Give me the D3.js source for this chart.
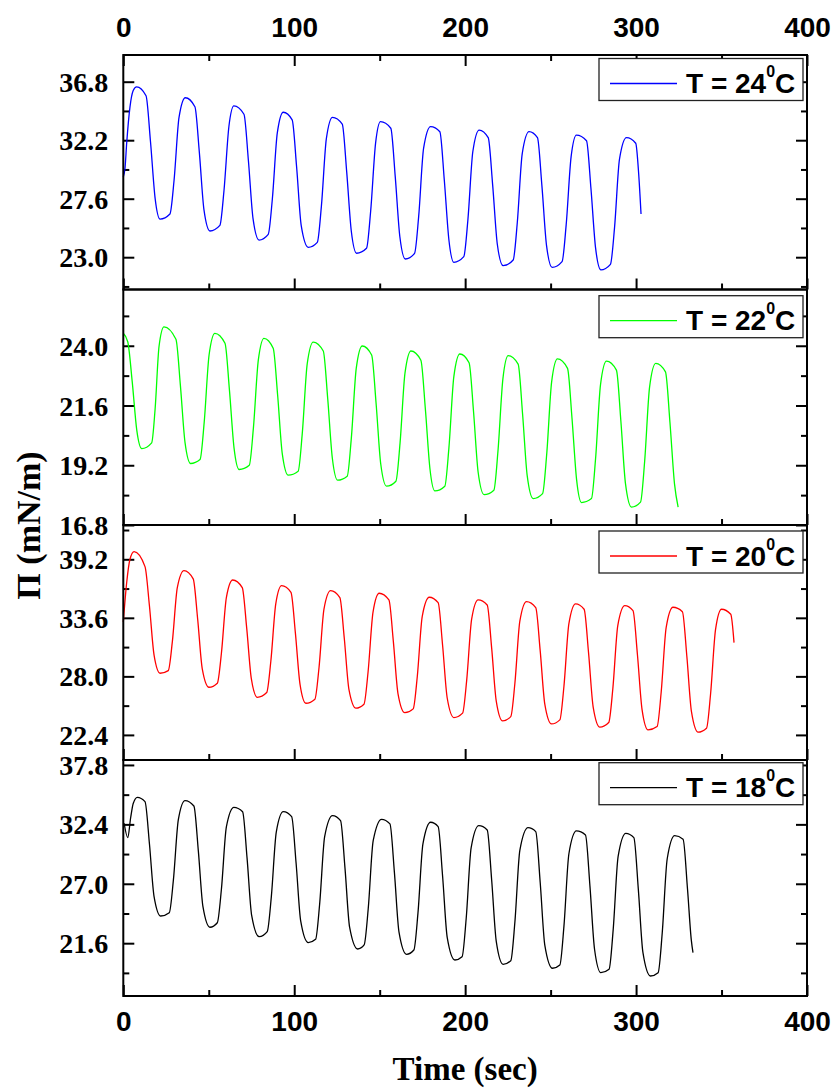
<!DOCTYPE html>
<html>
<head>
<meta charset="utf-8">
<script src="https://cdn.jsdelivr.net/npm/d3@7"></script>
<style>
  body { margin: 0; background: #fff; }
  svg { display: block; }
</style>
</head>
<body>
<svg id="chart" width="836" height="1090"></svg>
<script>
// Surface pressure oscillations at four subphase temperatures
const temperatures = ["24", "22", "20", "18"];
const colors = ["#0000ff", "#00ff00", "#ff0000", "#000000"];
const timeTicks = [0, 100, 200, 300, 400];
const timeMinorTicks = [50, 150, 250, 350];
const timeDomain = [0, 400];

const yDomains = [[20.46, 38.9], [16.8, 26.26], [20.0, 42.48], [16.8, 38.25]];
const yMajorTicks = [
  [23.0, 27.6, 32.2, 36.8],
  [16.8, 19.2, 21.6, 24.0],
  [22.4, 28.0, 33.6, 39.2],
  [21.6, 27.0, 32.4, 37.8]
];
const yMinorTicks = [
  [20.7, 25.3, 29.9, 34.5],
  [18.0, 20.4, 22.8, 25.2],
  [25.2, 30.8, 36.4, 42.0],
  [18.9, 24.3, 29.7, 35.1]
];

// [time (s), surface pressure (mN/m)]
const pi24 = [
  [0,29.3],[1,30.0],[2.0,32.0],[3.9,34.8],[5.8,36.1],[7.8,36.4],[13.3,35.7],[15.9,32.1],[18.6,27.65],[21.5,26.0],
  [27.3,26.4],[29.7,29.05],[32.6,33.99],[36.3,35.54],[41.9,34.83],[44.5,31.22],[47.2,26.72],[50.7,25.06],
  [56.5,25.5],[58.9,28.23],[61.8,33.3],[64.7,34.9],[70.6,34.24],[73.2,30.58],[75.9,26.03],[79.4,24.35],
  [84.8,24.8],[87.2,27.58],[90.1,32.77],[93.6,34.4],[98.8,33.8],[101.4,30.09],[104.1,25.48],[108.2,23.78],
  [113.5,24.17],[115.9,27.02],[118.8,32.33],[122.4,34.0],[128.1,33.47],[130.7,29.71],[133.4,25.04],[136.5,23.31],
  [142.3,23.7],[144.7,26.59],[147.6,31.97],[150.5,33.66],[156.5,33.14],[159.1,29.34],[161.8,24.61],[165.0,22.86],
  [170.4,23.3],[172.8,26.19],[175.7,31.57],[179.8,33.26],[185.2,32.87],[187.8,29.07],[190.5,24.35],[193.4,22.6],
  [199.2,23.04],[201.6,25.93],[204.5,31.31],[208.2,33.0],[213.5,32.4],[216.1,28.67],[218.8,24.04],[222.2,22.33],
  [228.1,22.78],[230.5,25.71],[233.4,31.15],[237.4,32.87],[242.3,32.4],[244.9,28.63],[247.6,23.93],[250.9,22.2],
  [256.7,22.65],[259.1,25.54],[262.0,30.91],[265.1,32.6],[271.0,32.16],[273.6,28.4],[276.3,23.73],[279.4,22.0],
  [285.0,22.44],[287.4,25.33],[290.3,30.71],[294.4,32.4],[299.8,31.96],[301.5,29.6],[302.9,26.4]
];
const pi22 = [
  [0,24.5],[2.6,24.16],[5.2,22.57],[7.9,20.6],[10.8,19.87],
  [16.6,20.1],[18.6,21.45],[20.9,23.97],[23.8,24.76],[30.8,24.26],[33.4,22.41],[36.1,20.12],[39.4,19.27],
  [44.9,19.43],[47.3,20.9],[50.2,23.64],[53.6,24.5],[59.5,24.1],[62.1,22.22],[64.8,19.89],[67.8,19.03],
  [73.7,19.2],[76.1,20.68],[79.0,23.43],[82.3,24.3],[87.7,23.9],[90.3,22.01],[93.0,19.67],[96.5,18.8],
  [102.3,18.96],[104.7,20.47],[107.6,23.27],[111.1,24.15],[117.0,23.79],[119.6,21.87],[122.3,19.48],[125.4,18.6],
  [131.0,18.76],[133.4,20.28],[136.3,23.1],[139.8,23.99],[145.3,23.63],[147.9,21.68],[150.6,19.26],[154.0,18.36],
  [159.5,18.56],[161.9,20.08],[164.8,22.9],[168.3,23.79],[174.1,23.42],[176.7,21.48],[179.4,19.06],[182.3,18.17],
  [188.1,18.36],[190.5,19.9],[193.4,22.77],[196.9,23.67],[202.3,23.32],[204.9,21.36],[207.6,18.92],[211.1,18.02],
  [216.8,18.2],[219.2,19.77],[222.1,22.68],[225.2,23.6],[231.0,23.26],[233.6,21.26],[236.3,18.78],[239.8,17.86],
  [245.3,18.06],[247.7,19.63],[250.6,22.55],[254.0,23.47],[259.9,23.09],[262.5,21.1],[265.2,18.62],[268.1,17.7],
  [273.9,17.86],[276.3,19.46],[279.2,22.44],[282.7,23.38],[288.5,23.02],[291.1,20.98],[293.8,18.46],[297.3,17.52],
  [302.6,17.72],[305.0,19.34],[307.9,22.34],[311.5,23.29],[317.2,22.95],[319.8,20.94],[322.5,18.44],[324.6,17.52]
];
const pi20 = [
  [0,33.2],[2.0,37.0],[3.9,39.2],[6.3,39.93],[12.7,38.5],[15.3,34.73],[18.0,30.03],[21.5,28.3],
  [26.3,28.55],[28.7,31.32],[31.6,36.48],[35.5,38.11],[40.9,37.32],[43.5,33.49],[46.2,28.72],[50.1,26.96],
  [55.0,27.35],[57.4,30.21],[60.3,35.54],[64.0,37.22],[69.6,36.49],[72.2,32.61],[74.9,27.78],[78.4,26.0],
  [83.9,26.45],[86.3,29.42],[89.2,34.94],[92.6,36.68],[98.1,36.04],[100.7,32.11],[103.4,27.23],[106.8,25.43],
  [112.1,25.82],[114.5,28.83],[117.4,34.44],[121.3,36.2],[126.7,35.53],[129.3,31.62],[132.0,26.76],[136.1,24.96],
  [140.8,25.34],[143.2,28.42],[146.1,34.15],[149.7,35.95],[155.4,35.31],[158.0,31.32],[160.7,26.36],[164.7,24.53],
  [169.6,24.89],[172.0,27.99],[174.9,33.75],[179.0,35.57],[184.2,35.05],[186.8,30.98],[189.5,25.93],[193.4,24.06],
  [198.5,24.48],[200.9,27.62],[203.8,33.47],[207.6,35.31],[212.9,34.83],[215.5,30.73],[218.2,25.63],[221.9,23.74],
  [226.7,24.15],[229.1,27.34],[232.0,33.28],[235.9,35.15],[241.3,34.57],[243.9,30.46],[246.6,25.34],[250.5,23.45],
  [255.4,23.84],[257.8,27.06],[260.7,33.04],[264.6,34.93],[269.6,34.42],[272.2,30.25],[274.9,25.06],[278.8,23.14],
  [284.0,23.58],[286.4,26.82],[289.3,32.86],[293.4,34.76],[298.2,34.29],[300.8,30.07],[303.5,24.82],[307.0,22.88],
  [312.3,23.2],[314.7,26.51],[317.6,32.67],[321.6,34.61],[327.1,34.19],[329.7,29.92],[332.4,24.62],[336.3,22.66],
  [341.2,23.04],[343.6,26.34],[346.5,32.49],[350.0,34.42],[355.4,33.94],[357.3,31.23]
];
const pi18 = [
  [0.5,32.5],[2.6,31.2],[4.3,33.0],[5.8,34.3],[8.2,34.86],[12.7,34.47],[15.3,30.62],[18.0,25.84],[21.9,24.07],
  [26.9,24.37],[29.3,27.33],[32.2,32.83],[36.1,34.56],[41.3,34.07],[43.9,29.99],[46.6,24.92],[50.7,23.05],
  [55.0,23.46],[57.4,26.5],[60.3,32.17],[64.7,33.95],[69.8,33.55],[72.4,29.35],[75.1,24.12],[79.5,22.19],
  [84.2,22.65],[86.6,25.81],[89.5,31.7],[93.6,33.55],[98.5,33.1],[101.1,28.86],[103.8,23.6],[108.2,21.65],
  [112.5,21.95],[114.9,25.21],[117.8,31.28],[122.4,33.19],[127.1,32.74],[129.7,28.42],[132.4,23.05],[137.1,21.07],
  [140.9,21.44],[143.3,24.75],[146.2,30.92],[151.1,32.86],[156.0,32.44],[158.6,28.06],[161.3,22.6],[165.7,20.59],
  [170.0,20.98],[172.4,24.35],[175.3,30.62],[179.8,32.59],[184.2,32.19],[186.8,27.71],[189.5,22.13],[194.0,20.07],
  [198.2,20.37],[200.6,23.82],[203.5,30.26],[208.0,32.28],[212.9,31.89],[215.5,27.37],[218.2,21.76],[222.2,19.68],
  [226.7,20.01],[229.1,23.52],[232.0,30.04],[236.8,32.1],[241.3,31.74],[243.9,27.14],[246.6,21.43],[251.1,19.32],
  [255.4,19.62],[257.8,23.15],[260.7,29.73],[265.1,31.8],[270.4,31.44],[273.0,26.81],[275.7,21.05],[279.4,18.92],
  [284.2,19.23],[286.6,22.81],[289.5,29.49],[294.0,31.59],[298.7,31.19],[301.3,26.54],[304.0,20.76],[308.4,18.62],
  [312.9,18.92],[315.3,22.53],[318.2,29.25],[322.6,31.37],[327.5,31.05],[330.1,26.5],[332.3,21.9],[333.3,20.74]
];
const seriesData = [pi24, pi22, pi20, pi18];

// ---- layout ----
const svg = d3.select("#chart");
const left = 123.3, right = 807;
const panelEdges = [55, 289.5, 525, 760, 996];
const legendTops = [58.5, 295.7, 531, 762.7];
const serif = "'Liberation Serif','Times New Roman',serif";
const sans = "'Liberation Sans',Arial,sans-serif";

const x = d3.scaleLinear().domain(timeDomain).range([left, right]);

function styleAxis(g) {
  g.select(".domain").remove();
  g.selectAll(".tick line").attr("stroke", "#000").attr("stroke-width", 2);
}

temperatures.forEach((temp, i) => {
  const top = panelEdges[i], bottom = panelEdges[i + 1];
  const y = d3.scaleLinear().domain(yDomains[i]).range([bottom, top]);
  const g = svg.append("g");
  const minors = yMinorTicks[i].filter(v => v >= yDomains[i][0] && v <= yDomains[i][1]);

  // left axis: labelled majors + minors
  g.append("g").attr("transform", `translate(${left},0)`)
    .call(d3.axisLeft(y).tickValues(yMajorTicks[i]).tickSize(-11).tickPadding(15)
      .tickFormat(d3.format(".1f")))
    .call(styleAxis)
    .call(a => a.selectAll("text").attr("font-family", serif).attr("font-weight", "bold")
      .attr("font-size", 28).attr("fill", "#000").attr("dy", "0.34em"));
  g.append("g").attr("transform", `translate(${left},0)`)
    .call(d3.axisLeft(y).tickValues(minors).tickSize(-6).tickFormat(""))
    .call(styleAxis);

  // right axis: mirrored ticks
  g.append("g").attr("transform", `translate(${right},0)`)
    .call(d3.axisRight(y).tickValues(yMajorTicks[i]).tickSize(-11).tickFormat(""))
    .call(styleAxis);
  g.append("g").attr("transform", `translate(${right},0)`)
    .call(d3.axisRight(y).tickValues(minors).tickSize(-6).tickFormat(""))
    .call(styleAxis);

  // bottom time ticks of each panel (inward)
  const isLast = i === temperatures.length - 1;
  g.append("g").attr("transform", `translate(0,${bottom})`)
    .call(d3.axisBottom(x).tickValues(timeTicks).tickSize(-11).tickPadding(15)
      .tickFormat(isLast ? d3.format("d") : ""))
    .call(styleAxis)
    .call(a => a.selectAll("text").attr("font-family", sans).attr("font-weight", "bold")
      .attr("font-size", 28).attr("fill", "#000").attr("dy", "0.71em"));
  g.append("g").attr("transform", `translate(0,${bottom})`)
    .call(d3.axisBottom(x).tickValues(timeMinorTicks).tickSize(-6).tickFormat(""))
    .call(styleAxis);

  // top time axis on the first panel
  if (i === 0) {
    g.append("g").attr("transform", `translate(0,${top})`)
      .call(d3.axisTop(x).tickValues(timeTicks).tickSize(-11).tickPadding(18)
        .tickFormat(d3.format("d")))
      .call(styleAxis)
      .call(a => a.selectAll("text").attr("font-family", sans).attr("font-weight", "bold")
        .attr("font-size", 28).attr("fill", "#000"));
    g.append("g").attr("transform", `translate(0,${top})`)
      .call(d3.axisTop(x).tickValues(timeMinorTicks).tickSize(-6).tickFormat(""))
      .call(styleAxis);
  }

  // data line
  const line = d3.line().x(d => x(d[0])).y(d => y(d[1])).curve(d3.curveMonotoneX);
  g.append("path").datum(seriesData[i])
    .attr("d", line).attr("fill", "none")
    .attr("stroke", colors[i]).attr("stroke-width", 1.3)
    .attr("stroke-linejoin", "round");

  // frame
  g.append("rect").attr("x", left).attr("y", top)
    .attr("width", right - left).attr("height", bottom - top)
    .attr("fill", "none").attr("stroke", "#000").attr("stroke-width", 2);

  // legend
  const lt = legendTops[i];
  const lg = g.append("g");
  lg.append("rect").attr("x", 599).attr("y", lt).attr("width", 204).attr("height", 42)
    .attr("fill", "#fff").attr("stroke", "#222").attr("stroke-width", 1.3);
  lg.append("line").attr("x1", 610).attr("x2", 677).attr("y1", lt + 25).attr("y2", lt + 25)
    .attr("stroke", colors[i]).attr("stroke-width", 1.3);
  const t = lg.append("text").attr("x", 686).attr("y", lt + 34.5)
    .attr("font-family", sans).attr("font-weight", "bold").attr("font-size", 28).attr("fill", "#000");
  t.append("tspan").text(`T = ${temp}`);
  t.append("tspan").attr("dy", -16).attr("font-size", 16).text("0");
  t.append("tspan").attr("dy", 16).text("C");
});

// axis titles
svg.append("text")
  .attr("x", (left + right) / 2).attr("y", 1080)
  .attr("text-anchor", "middle")
  .attr("font-family", serif).attr("font-weight", "bold").attr("font-size", 33)
  .text("Time (sec)");

svg.append("text")
  .attr("transform", `translate(40,${(panelEdges[0] + panelEdges[4]) / 2}) rotate(-90)`)
  .attr("text-anchor", "middle")
  .attr("font-family", serif).attr("font-weight", "bold").attr("font-size", 34)
  .text("Π (mN/m)");
</script>
</body>
</html>
